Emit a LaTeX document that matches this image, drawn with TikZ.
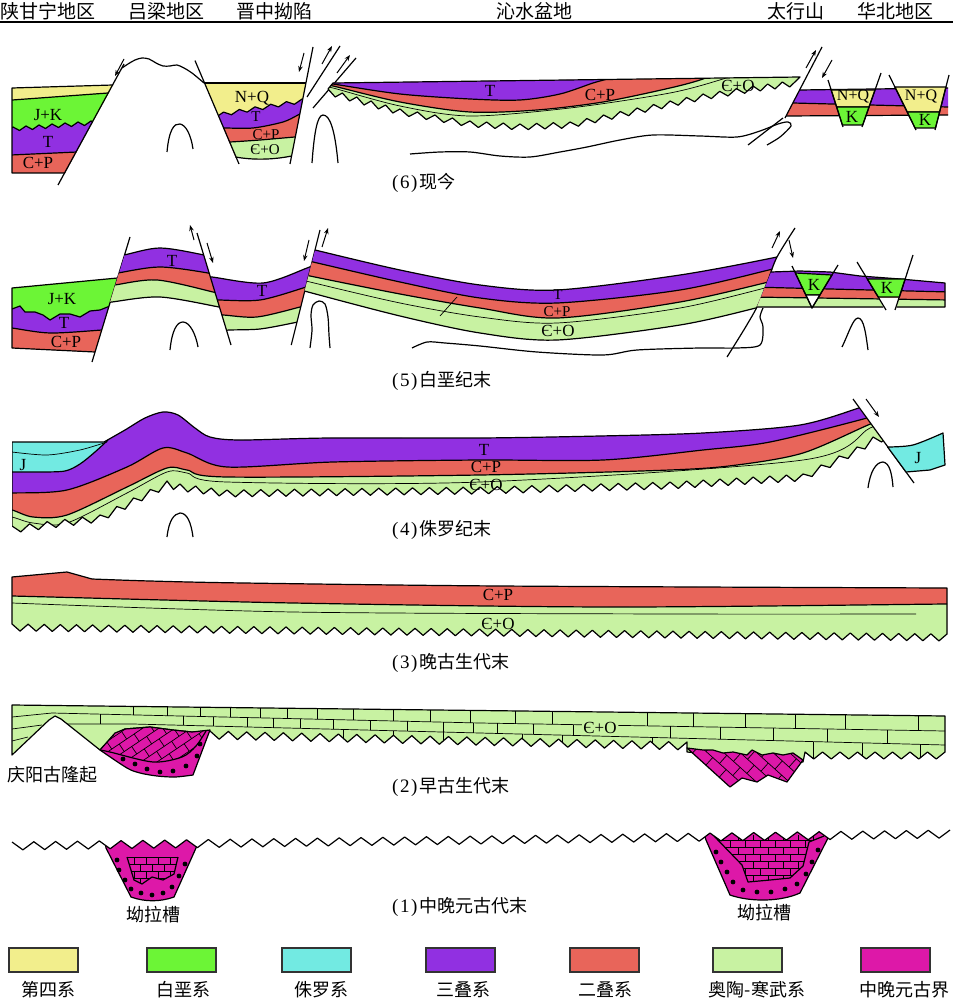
\documentclass[tikz,border=0pt]{standalone}
\usepackage{fontspec}
\setmainfont{Liberation Serif}
\newfontfamily\cjk{Noto Sans CJK SC}
\usetikzlibrary{arrows.meta}
\definecolor{cQ}{RGB}{242,238,140}
\definecolor{cK}{RGB}{108,245,54}
\definecolor{cJ}{RGB}{114,234,226}
\definecolor{cT}{RGB}{145,48,225}
\definecolor{cP}{RGB}{232,101,90}
\definecolor{cO}{RGB}{200,242,162}
\definecolor{cZ}{RGB}{221,24,168}
\newcommand\saw[6]{\foreach \sawi in {1,...,#5}{ -- ({#1+((#3)-(#1))/(#5)*(\sawi-0.5)},{#2+((#4)-(#2))/(#5)*(\sawi-0.5)+(#6)}) -- ({#1+((#3)-(#1))/(#5)*\sawi},{#2+((#4)-(#2))/(#5)*\sawi}) }}
\newcommand\pnum[1]{{\rmfamily\fontsize{19}{19}\selectfont(\kern1.5pt#1\kern1.5pt)\kern2pt}}
\begin{document}
\begin{tikzpicture}[x=1pt,y=-1pt,
  ln/.style={line width=1.2pt,line join=round},
  thn/.style={line width=0.7pt},
  arr/.style={line width=1pt,-{Stealth[length=6pt,width=4.5pt]}},
  lab/.style={font=\fontsize{17}{17}\selectfont,inner sep=0},
  slab/.style={font=\fontsize{15}{15}\selectfont,inner sep=0},
  hdr/.style={font=\cjk\fontsize{19}{19}\selectfont,inner sep=0},
  capt/.style={font=\cjk\fontsize{18}{18}\selectfont,inner sep=0,anchor=west},
  leg/.style={font=\cjk\fontsize{18}{18}\selectfont,inner sep=0},
  lbox/.style={draw=black!80,line width=1.2pt}]
\useasboundingbox (0,0) rectangle (953,1000);
\fill[white] (0,0) rectangle (953,1000);
% ---------- header ----------
\node[hdr] (h1) at (48,11) {陕甘宁地区};
\node[hdr] (h2) at (166,11) {吕梁地区};
\node[hdr] (h3) at (274,11) {晋中拗陷};
\node[hdr] (h4) at (534,11) {沁水盆地};
\node[hdr] (h5) at (796,11) {太行山};
\node[hdr] (h6) at (895,11) {华北地区};
\draw[line width=1.4pt] (0,22) -- (953,22);

% ================= Panel 6 =================
\begin{scope}
\clip (12,88) -- (113,85) -- (65,173) -- (12,173) -- cycle;
\fill[cQ] (0,75) rectangle (130,185);
\fill[cK] (0,100.9) -- (130,91.4) -- (130,185) -- (0,185) -- cycle;
\fill[cT] (0,128) \saw{0}{128}{104}{120}{8}{4} -- (130,118) -- (130,185) -- (0,185) -- cycle;
\fill[cP] (0,155.5) -- (130,149.6) -- (130,185) -- (0,185) -- cycle;
\draw[ln] (0,100.9) -- (130,91.4);
\draw[ln] (0,128) \saw{0}{128}{104}{120}{8}{4} -- (130,118);
\draw[ln] (0,155.5) -- (130,149.6);
\end{scope}
\draw[ln] (113,85) -- (12,88) -- (12,173) -- (65,173);
\draw[ln] (58,185) -- (124,64);
\draw[ln] plot[smooth] coordinates {(122,68) (128,64) (135,60) (142,58) (149,59) (156,63) (163,66) (170,66) (177,65) (184,68) (192,73) (204,83)};
\draw[arr] (124,59) -- (115,76);
\node[lab] (l6a) at (48,115) {J+K};
\node[lab] (l6b) at (48,142) {T};
\node[lab] (l6c) at (38,163) {C+P};
% graben
\begin{scope}
\clip (204.4,83) -- (306,83) -- (291.6,156) .. controls (272,160) and (252,160) .. (235.5,157) -- cycle;
\fill[cQ] (190,75) rectangle (320,170);
\fill[cT] (200,120) \saw{200}{120}{310}{101.7}{7}{-4} -- (320,100) -- (320,170) -- (200,170) -- cycle;
\fill[cP] plot[smooth] coordinates {(205,129) (222,128) (253,128) (283,122) (298,115) (312,108)} -- (320,170) -- (200,170) -- cycle;
\fill[cO] plot[smooth] coordinates {(205,143) (230,142) (260,140) (295,137) (312,136)} -- (320,170) -- (200,170) -- cycle;
\draw[ln] (200,120) \saw{200}{120}{310}{101.7}{7}{-4};
\draw[ln] plot[smooth] coordinates {(205,129) (222,128) (253,128) (283,122) (298,115) (312,108)};
\draw[ln] plot[smooth] coordinates {(205,143) (230,142) (260,140) (295,137) (312,136)};
\end{scope}
\draw[ln] (204.4,83) -- (306,83);
\draw[ln] (291.6,156) .. controls (272,160) and (252,160) .. (235.5,157);
\draw[ln] (195,60.6) -- (239,164);
\draw[ln] (313,47) -- (290,164);
\draw[arr] (304,53) -- (299,72);
\draw[ln] (307,97) -- (340,46);
\draw[ln] (313,108) -- (356,58);
\draw[arr] (322,64) -- (332,46);
\draw[arr] (337,73) -- (350,55);
\node[lab] (g6a) at (252,98) {N+Q};
\node[slab] (g6b) at (256,117) {T};
\node[slab] (g6c) at (266,135) {C+P};
\node[slab] (g6d) at (265,150) {Є+O};
\draw[ln] (167,152) .. controls (169,130) and (174,123) .. (180,124) .. controls (186,125) and (191,135) .. (193,149);
\draw[ln] (312,163) .. controls (314,135) and (317,115) .. (323,115) .. controls (330,115) and (335,130) .. (338,163);
% basin
\begin{scope}
\clip (333,83) -- (800,77) -- (797,80) \saw{797}{80}{753}{86}{3}{6} \saw{753}{86}{703}{94}{3}{6} \saw{703}{94}{637}{108}{4}{6} \saw{637}{108}{570}{122}{4}{6} \saw{570}{122}{520}{124}{3}{6} \saw{520}{124}{470}{121}{3}{6} \saw{470}{121}{400}{109}{4}{6} \saw{400}{109}{328}{89}{5}{6} -- cycle;
\fill[cO] (320,60) rectangle (810,150);
\fill[cP] plot[smooth] coordinates {(320,84) (333,86) (400,102) (470,112) (537,110) (603,102) (670,88) (703,79) (720,70)} -- (720,50) -- (320,50) -- cycle;
\fill[cT] plot[smooth] coordinates {(320,82) (333,84) (400,94) (470,99) (520,100) (560,94) (593,83) (610,78) (625,70)} -- (625,50) -- (320,50) -- cycle;
\draw[ln] plot[smooth] coordinates {(320,84) (333,86) (400,102) (470,112) (537,110) (603,102) (670,88) (703,79) (720,70)};
\draw[ln] plot[smooth] coordinates {(320,82) (333,84) (400,94) (470,99) (520,100) (560,94) (593,83) (610,78) (625,70)};
\draw[thn] plot[smooth] coordinates {(320,86) (333,88) (400,106) (470,116) (570,108) (670,93) (723,79) (740,72)};
\end{scope}
\draw[ln] (333,83) -- (800,77) -- (797,80) \saw{797}{80}{753}{86}{3}{6} \saw{753}{86}{703}{94}{3}{6} \saw{703}{94}{637}{108}{4}{6} \saw{637}{108}{570}{122}{4}{6} \saw{570}{122}{520}{124}{3}{6} \saw{520}{124}{470}{121}{3}{6} \saw{470}{121}{400}{109}{4}{6} \saw{400}{109}{328}{89}{5}{6} -- cycle;
\node[lab] (b6a) at (490,91) {T};
\node[lab] (b6b) at (600,95) {C+P};
\node[lab] (b6c) at (738,86) {Є+O};
\draw[ln] plot[smooth] coordinates {(410,154) (440,152) (470,152) (500,156) (530,157) (560,152) (587,147) (620,140) (653,135) (700,136) (737,137) (760,131) (778,124) (788,122) (791,126) (780,137) (767,145)};
\draw[ln] (748,145) -- (783,118);
% east
\fill[cT] (799.6,90) -- (948,88) -- (948,107) -- (792.8,103) -- cycle;
\fill[cP] (792.8,103) -- (948,107) -- (948,115) -- (786,116) -- cycle;
\draw[ln] (799.6,90) -- (948,88);
\draw[ln] (792.8,103) -- (948,107);
\draw[ln] (786,116) -- (948,115);
\draw[ln] (822,47) -- (785,118);
\draw[arr] (806,68) -- (816,50);
\draw[arr] (832,60) -- (822,78);
\filldraw[fill=cQ,ln] (831.2,90) -- (875.0,90) -- (869.0,107) -- (836.6,107) -- cycle;
\filldraw[fill=cK,ln] (836.6,107) -- (869.0,107) -- (862.7,125) -- (842.4,125) -- cycle;
\draw[ln] (828,80) -- (843,127);
\draw[ln] (881,73) -- (862,127);
\filldraw[fill=cQ,ln] (894.9,87) -- (945.9,87) -- (939.6,112) -- (907.2,112) -- cycle;
\filldraw[fill=cK,ln] (907.2,112) -- (939.6,112) -- (935.5,128) -- (915.0,128) -- cycle;
\draw[ln] (889,75) -- (916,130);
\draw[ln] (949,75) -- (935,130);
\node[font=\fontsize{16}{16}\selectfont,inner sep=0] (e6a) at (853,97) {N+Q};
\node[lab] (e6b) at (852,117) {K};
\node[font=\fontsize{16}{16}\selectfont,inner sep=0] (e6c) at (921,97) {N+Q};
\node[lab] (e6d) at (925,120) {K};
\node[capt] (c6) at (392,183) {\pnum{6}现今};

% ================= Panel 5 =================
\begin{scope}
\clip (12,288) -- (117.5,278) -- (95,352) -- (12,348) -- cycle;
\fill[cK] (0,270) rectangle (130,360);
\fill[cT] (0,309) -- (12,309) -- (20,306) -- (25,312) -- (35,312) -- (43,315) -- (50,320) -- (60,314) -- (70,314) -- (80,317) -- (90,311) -- (100,310) -- (110,306) -- (125,305) -- (125,360) -- (0,360) -- cycle;
\fill[cP] plot[smooth] coordinates {(0,327) (12,328) (50,333) (102,330) (125,328)} -- (125,360) -- (0,360) -- cycle;
\draw[ln] (0,309) -- (12,309) -- (20,306) -- (25,312) -- (35,312) -- (43,315) -- (50,320) -- (60,314) -- (70,314) -- (80,317) -- (90,311) -- (100,310) -- (110,306) -- (125,305);
\draw[ln] plot[smooth] coordinates {(0,327) (12,328) (50,333) (102,330) (125,328)};
\end{scope}
\draw[ln] (117.5,278) -- (12,288) -- (12,348) -- (95,352);
\draw[ln] (130,237) -- (92,362);
\node[lab] (l5a) at (62,299) {J+K};
\node[lab] (l5b) at (64,323) {T};
\node[lab] (l5c) at (66,342) {C+P};
% uplift block
\begin{scope}
\clip (130,237) -- (197,233) -- (231,345) -- (92,362) -- cycle;
\begin{scope}
\clip plot[smooth] coordinates {(100,260) (124,255) (160,248) (204,255) (230,262)} -- plot[smooth] coordinates {(232,310) (219,307) (160,297) (112,302) (95,305)} -- cycle;
\fill[cT] (90,230) rectangle (240,320);
\fill[cP] plot[smooth] coordinates {(100,277) (118,273) (160,267) (208,273) (225,278)} -- (240,320) -- (90,320) -- cycle;
\fill[cO] plot[smooth] coordinates {(100,288) (115,285) (157,280) (213,292) (228,297)} -- (240,320) -- (90,320) -- cycle;
\draw[ln] plot[smooth] coordinates {(100,277) (118,273) (160,267) (208,273) (225,278)};
\draw[ln] plot[smooth] coordinates {(100,288) (115,285) (157,280) (213,292) (228,297)};
\end{scope}
\draw[ln] plot[smooth] coordinates {(100,260) (124,255) (160,248) (204,255) (230,262)};
\draw[ln] plot[smooth] coordinates {(232,310) (219,307) (160,297) (112,302) (95,305)};
\end{scope}
\node[lab] (m5a) at (172,261) {T};
% graben
\begin{scope}
\clip (197,233) -- (318,238) -- (291.25,345) -- (231,345) -- cycle;
\begin{scope}
\clip plot[smooth] coordinates {(200,276) (212,277) (263,283) (307,268) (320,262)} -- plot[smooth] coordinates {(310,319) (293,323) (260,329) (230,330) (215,331)} -- cycle;
\fill[cT] (190,230) rectangle (330,350);
\fill[cP] plot[smooth] coordinates {(205,300) (218,300) (260,300) (303,288) (318,282)} -- (330,350) -- (190,350) -- cycle;
\fill[cO] plot[smooth] coordinates {(210,315) (223,315) (257,317) (300,307) (315,302)} -- (330,350) -- (190,350) -- cycle;
\draw[ln] plot[smooth] coordinates {(205,300) (218,300) (260,300) (303,288) (318,282)};
\draw[ln] plot[smooth] coordinates {(210,315) (223,315) (257,317) (300,307) (315,302)};
\end{scope}
\draw[ln] plot[smooth] coordinates {(200,276) (212,277) (263,283) (307,268) (320,262)};
\draw[ln] plot[smooth] coordinates {(310,319) (293,323) (260,329) (230,330) (215,331)};
\end{scope}
\node[lab] (g5a) at (262,291) {T};
\draw[ln] (197,233) -- (231,345);
\draw[ln] (320,230) -- (291.25,345);
\draw[arr] (194,240) -- (190,225);
\draw[arr] (207,243) -- (213,263);
\draw[arr] (309,240) -- (304,261);
\draw[arr] (322,247) -- (328,228);
% basin
\begin{scope}
\clip (318,238) -- (792,233) -- (777,257) -- (768,280) -- (758,305) -- (745,328) -- (725,358) -- (291.25,345) -- cycle;
\begin{scope}
\clip plot[smooth] coordinates {(300,246) (315,250) (400,270) (480,285) (557,290) (680,275) (777,257) (800,250)} -- plot[smooth] coordinates {(800,296) (760,307) (680,325) (557,340) (480,333) (400,316) (308,292) (295,288)} -- cycle;
\fill[cT] (290,230) rectangle (810,360);
\fill[cP] plot[smooth] coordinates {(300,259) (313,262) (400,282) (480,298) (557,303) (680,290) (777,268) (800,262)} -- (810,360) -- (290,360) -- cycle;
\fill[cO] plot[smooth] coordinates {(300,273) (310,276) (400,294) (480,308) (557,318) (680,302) (777,280) (800,275)} -- (810,360) -- (290,360) -- cycle;
\draw[ln] plot[smooth] coordinates {(300,259) (313,262) (400,282) (480,298) (557,303) (680,290) (777,268) (800,262)};
\draw[ln] plot[smooth] coordinates {(300,273) (310,276) (400,294) (480,308) (557,318) (680,302) (777,280) (800,275)};
\draw[thn] plot[smooth] coordinates {(300,279) (310,282) (400,303) (480,317) (557,323) (680,308) (777,285) (800,280)};
\draw[thn] (440,316) -- (457,297);
\end{scope}
\draw[ln] plot[smooth] coordinates {(300,246) (315,250) (400,270) (480,285) (557,290) (680,275) (777,257) (800,250)};
\draw[ln] plot[smooth] coordinates {(800,296) (760,307) (680,325) (557,340) (480,333) (400,316) (308,292) (295,288)};
\end{scope}
\node[slab] (b5a) at (558,295) {T};
\node[slab] (b5b) at (557,312) {C+P};
\node[lab] (b5c) at (558,331) {Є+O};
\draw[ln] plot[smooth] coordinates {(795,228) (777,257) (768,280) (758,305) (745,328) (727,357)};
\draw[arr] (772,248) -- (780,231);
\draw[arr] (789,240) -- (793,258);
\draw[ln] plot[smooth] coordinates {(412,348) (427,342) (445,343) (480,346) (537,352) (603,355) (637,350) (700,348) (737,348) (760,345) (763,327) (760,317) (763,308)};
% east
\begin{scope}
\clip (771,272) -- (800,271) -- (830,272) -- (860,276) -- (900,279) -- (945,283) -- (945,307) -- (757,307) -- cycle;
\fill[cT] (750,260) rectangle (950,310);
\fill[cP] (750,287) -- (950,292) -- (950,310) -- (750,310) -- cycle;
\fill[cO] (750,297) -- (950,300) -- (950,310) -- (750,310) -- cycle;
\draw[ln] (750,287) -- (950,292);
\draw[ln] (750,297) -- (950,300);
\end{scope}
\draw[ln] (771,272) -- (800,271) -- (830,272) -- (860,276) -- (900,279) -- (945,283) -- (945,307) -- (757,307);
\filldraw[fill=cK,ln] (795.3,273) -- (832,275) -- (819.9,295) -- (805.8,295) -- cycle;
\filldraw[fill=white,ln] (805.8,295) -- (819.9,295) -- (812,308) -- cycle;
\draw[ln] (792,266) -- (812,308) -- (838,265);
\fill[white] (878.2,297.6) -- (899.4,297.6) -- (896.1,309) -- (884.2,309) -- cycle;
\filldraw[fill=cK,ln] (867.3,279) -- (905.2,279) -- (899.4,297) -- (878.2,297) -- cycle;
\draw[ln] (857,262) -- (886,310);
\draw[ln] (913,255) -- (895,310);
\node[lab] (e5a) at (814,285) {K};
\node[lab] (e5b) at (887,288) {K};
\draw[ln] (170,350) .. controls (172,330) and (177,322) .. (183,322) .. controls (190,322) and (196,335) .. (198,347);
\draw[ln] plot[smooth] coordinates {(310,348) (312,330) (311,315) (313,305) (319,301) (325,304) (328,317) (329,335) (330,348)};
\draw[ln] (842,347) .. controls (848,335) and (853,318) .. (858,318) .. controls (864,318) and (866,335) .. (868,350);
\node[capt] (c5) at (392,381) {\pnum{5}白垩纪末};

% ================= Panel 4 =================
\begin{scope}
\clip (12,380) -- (839,380) -- (969.5,560) -- (12,560) -- cycle;
\begin{scope}
\clip (12,442) -- (104,442) -- plot[smooth] coordinates {(104,442) (125,430) (145,418) (163,412) (178,415) (195,428) (210,437) (240,440) (330,438) (480,438) (600,436) (703,433) (800,425) (862,407) (890,398)} -- (892,433) \saw{890}{433}{873}{437}{1}{7} \saw{873}{437}{857}{447}{1}{7} \saw{857}{447}{803}{474}{3}{7} \saw{803}{474}{670}{482}{8}{7} \saw{670}{482}{480}{487}{11}{7} \saw{480}{487}{227}{490}{15}{7} \saw{227}{490}{180}{484}{3}{7} \saw{180}{484}{167}{481}{1}{7} \saw{167}{481}{100}{515}{4}{7} \saw{100}{515}{12}{526}{5}{7} -- cycle;
\fill[cT] (0,380) rectangle (960,560);
\fill[cJ] (0,440) -- (108,440) -- plot[smooth] coordinates {(108,440) (95,452) (80,464) (65,471) (40,472) (12,472) (0,472)} -- cycle;
\fill[cP] plot[smooth] coordinates {(0,493) (12,493) (67,490) (127,467) (163,448) (187,453) (227,467) (333,462) (480,460) (603,460) (703,450) (770,442) (867,418) (895,408)} -- (960,560) -- (0,560) -- cycle;
\fill[cO] plot[smooth] coordinates {(0,510) (12,510) (33,517) (67,515) (127,487) (167,468) (187,470) (227,477) (480,475) (670,470) (737,465) (803,453) (868,425) (895,414)} -- (960,560) -- (0,560) -- cycle;
\draw[thn] plot[smooth] coordinates {(12,452) (47,455) (80,450) (107,442)};
\draw[ln] plot[smooth] coordinates {(108,440) (95,452) (80,464) (65,471) (40,472) (12,472) (0,472)};
\draw[ln] plot[smooth] coordinates {(0,493) (12,493) (67,490) (127,467) (163,448) (187,453) (227,467) (333,462) (480,460) (603,460) (703,450) (770,442) (867,418) (895,408)};
\draw[ln] plot[smooth] coordinates {(0,510) (12,510) (33,517) (67,515) (127,487) (167,468) (187,470) (227,477) (480,475) (670,470) (737,465) (803,453) (868,425) (895,414)};
\draw[thn] plot[smooth] coordinates {(0,517) (12,517) (33,523) (67,523) (127,493) (167,472) (187,473) (227,482) (480,482) (803,460) (870,428) (895,420)};
\end{scope}
\draw[ln] (12,442) -- (104,442) -- plot[smooth] coordinates {(104,442) (125,430) (145,418) (163,412) (178,415) (195,428) (210,437) (240,440) (330,438) (480,438) (600,436) (703,433) (800,425) (862,407) (890,398)} -- (892,433) \saw{890}{433}{873}{437}{1}{7} \saw{873}{437}{857}{447}{1}{7} \saw{857}{447}{803}{474}{3}{7} \saw{803}{474}{670}{482}{8}{7} \saw{670}{482}{480}{487}{11}{7} \saw{480}{487}{227}{490}{15}{7} \saw{227}{490}{180}{484}{3}{7} \saw{180}{484}{167}{481}{1}{7} \saw{167}{481}{100}{515}{4}{7} \saw{100}{515}{12}{526}{5}{7} -- cycle;
\end{scope}
\draw[ln] (853,399) -- (914,483);
\draw[arr] (866,399) -- (879,417);
\filldraw[fill=cJ,ln] (887.6,447) -- plot[smooth] coordinates {(887.6,447) (913,445) (943,433)} -- (945,465) -- (930,470) -- (906,472) -- cycle;
\draw[ln] (167,537) .. controls (169,520) and (174,514) .. (180,513) .. controls (187,513) and (191,522) .. (193,537);
\draw[ln] (868,488) .. controls (870,472) and (876,462) .. (883,462) .. controls (890,463) and (892,475) .. (893,487);
\node[lab] (l4a) at (23,465) {J};
\node[lab] (l4b) at (484,450) {T};
\node[lab] (l4c) at (486,467) {C+P};
\node[lab] (l4d) at (486,485) {Є+O};
\node[lab] (l4e) at (918,458) {J};
\node[capt] (c4) at (392,530) {\pnum{4}侏罗纪末};

% ================= Panel 3 =================
\begin{scope}
\clip (12,577) -- (67,572) -- (92,579) -- plot[smooth] coordinates {(92,579) (150,581) (244,583) (500,586) (947,588)} -- (947,634) \saw{947}{634}{12}{624}{58}{7} -- cycle;
\fill[cP] (0,560) rectangle (960,660);
\fill[cO] plot[smooth] coordinates {(0,596) (12,596) (293,603) (611,607) (947,604) (960,604)} -- (960,660) -- (0,660) -- cycle;
\draw[ln] plot[smooth] coordinates {(0,596) (12,596) (293,603) (611,607) (947,604) (960,604)};
\draw[thn] plot[smooth] coordinates {(12,603) (293,612) (672,614) (916,614)};
\end{scope}
\draw[ln] (12,577) -- (67,572) -- (92,579) -- plot[smooth] coordinates {(92,579) (150,581) (244,583) (500,586) (947,588)} -- (947,634) \saw{947}{634}{12}{624}{58}{7} -- cycle;
\node[lab] (l3a) at (498,595) {C+P};
\node[lab] (l3b) at (498,624) {Є+O};
\node[capt] (c3) at (392,663) {\pnum{3}晚古生代末};

% ================= Panel 2 =================
\begin{scope}
\clip (12,705) -- (945,716) -- (945,752) \saw{945}{752}{805}{752}{8}{7} -- (803,762) -- (687,752) -- (687,742) \saw{687}{742}{210}{731}{26}{8} -- (192,732) -- (173,730) -- (150,727) -- (125,729) -- (115,734) -- (100,750) -- (61,719) -- (55,716) -- (49,720) -- (12,755) -- cycle;
\fill[cO] (0,700) rectangle (953,800);
\draw[thn] (12,717) -- (52,713) -- (480,723) -- (945,731);
\draw[thn] (66,724) -- (133,724) -- (480,733) -- (945,745);
\draw[thn] (12,729) -- (42,725);
\draw[thn] (12,741) -- (28,737);
\foreach \x in {133,167,200,230,260,287,317,353,393,430,470} \draw[thn] (\x,{705+0.01179*(\x-12)}) -- (\x,{713+0.02336*(\x-52)});
\foreach \x in {515,552,647,693,745,795,845,918} \draw[thn] (\x,{705+0.01179*(\x-12)}) -- (\x,{723+0.0172*(\x-480)});
\foreach \x in {100,183,213,247,273,300,333,370,407,443,473} \draw[thn] (\x,{713+0.02336*(\x-52)}) -- (\x,{max(724,724+0.02594*(\x-133))});
\foreach \x in {497,533,573,670,720,773,827,887} \draw[thn] (\x,{723+0.0172*(\x-480)}) -- (\x,{733+0.0258*(\x-480)});
\foreach \x in {343,393,443,522,562,652,813,862,920} \draw[thn] (\x,{max(724,724+0.02594*(\x-133))}) -- (\x,765);
\end{scope}
\draw[ln] (12,705) -- (945,716) -- (945,752) \saw{945}{752}{805}{752}{8}{7} -- (803,762) -- (687,752) -- (687,742) \saw{687}{742}{210}{731}{26}{8} -- (192,732) -- (173,730) -- (150,727) -- (125,729) -- (115,734) -- (100,750) -- (61,719) -- (55,716) -- (49,720) -- (12,755) -- cycle;
\node[lab,fill=cO,inner sep=1.5pt] (l2a) at (600,728) {Є+O};
% magenta 1
\filldraw[fill=cZ,ln] (100,750) -- (115,733) -- (125,729) -- (150,727) -- (173,730) -- (192,732) -- (210,730) -- (193,775) -- plot[smooth] coordinates {(193,775) (175,777) (157,776) (140,773) (127,768) (100,750)} -- cycle;
\begin{scope}
\clip (100,750) -- (115,733) -- (125,729) -- (150,727) -- (173,730) -- (192,732) -- (206,731) -- plot[smooth] coordinates {(206,731) (196,746) (182,757) (153,762) (110,752)} -- cycle;
\begin{scope}[rotate around={34:(150,745)}]
\foreach \j in {0,...,10} {
 \draw[thn] (80,{700+9*\j}) -- (230,{700+9*\j});
 \foreach \i in {0,...,8} \draw[thn] ({80+18*\i+9*mod(\j,2)},{700+9*\j}) -- ++(0,9);
}
\end{scope}
\end{scope}
\draw[ln] plot[smooth] coordinates {(206,731) (196,746) (182,757) (153,762) (110,752) (100,750)};
\foreach \p in {(123,759),(135,764),(147,769),(160,772),(173,771),(186,766),(197,756),(200,744)} \fill \p circle (2.4pt);
% magenta 2
\filldraw[fill=cZ,ln] (687,748) -- (703,750) -- (713,750) -- (723,753) -- (733,752) -- (747,755) -- (752,750) -- (762,755) -- (773,753) -- (783,755) -- (793,753) -- (803,760) -- (787,782) -- (768,775) -- (757,782) -- (742,778) -- (730,787) -- cycle;
\begin{scope}
\clip (687,748) -- (703,750) -- (713,750) -- (723,753) -- (733,752) -- (747,755) -- (752,750) -- (762,755) -- (773,753) -- (783,755) -- (793,753) -- (803,760) -- (787,782) -- (768,775) -- (757,782) -- (742,778) -- (730,787) -- cycle;
\begin{scope}[rotate around={-42:(745,765)}]
\foreach \j in {0,...,9} {
 \draw[thn] (680,{715+11*\j}) -- (820,{715+11*\j});
 \foreach \i in {0,...,8} \draw[thn] ({680+18*\i+9*mod(\j,2)},{715+11*\j}) -- ++(0,11);
}
\end{scope}
\end{scope}
\node[font=\cjk\fontsize{18}{18}\selectfont,inner sep=0] (q2) at (52,775) {庆阳古隆起};
\node[capt] (c2) at (392,787) {\pnum{2}早古生代末};

% ================= Panel 1 =================
\begin{scope}
\clip (12,842) \saw{12}{842}{950}{830}{43}{8} -- (950,1000) -- (12,1000) -- cycle;
\filldraw[fill=cZ,ln] (104,835) -- (199,835) -- (196,848) -- (174,897) .. controls (160,902) and (145,902) .. (131,897) -- (106,848) -- cycle;
\begin{scope}
\clip (127,857) -- (178,857) -- (174,874) -- (163,880) -- (152,877) -- (142,884) -- (134,880) -- cycle;
\foreach \j in {0,...,4} {
 \draw[thn] (120,{857+7*\j}) -- (185,{857+7*\j});
 \foreach \i in {0,...,5} \draw[thn] ({122+12*\i+6*mod(\j,2)},{857+7*\j}) -- ++(0,7);
}
\end{scope}
\draw[ln] (127,857) -- (134,880) -- (142,884) -- (152,877) -- (163,880) -- (174,874) -- (178,857);
\filldraw[fill=cZ,ln] (703,830) -- (831,830) -- (828,838) -- (800,893) .. controls (780,902) and (750,902) .. (730,895) -- (706,840) -- cycle;
\begin{scope}
\clip (712,835) -- (826,835) -- (809,842) -- (803,866) -- (790,878) -- (770,880) -- (748,882) -- (742,865) -- cycle;
\foreach \j in {0,...,7} {
 \draw[thn] (705,{833+7*\j}) -- (830,{833+7*\j});
 \foreach \i in {0,...,8} \draw[thn] ({708+15*\i+7.5*mod(\j,2)},{833+7*\j}) -- ++(0,7);
}
\end{scope}
\draw[ln] (714,836) -- (742,865) -- (748,882) -- (770,880) -- (790,878) -- (803,866) -- (809,842) -- (824,836);
\end{scope}
\draw[ln] (12,842) \saw{12}{842}{950}{830}{43}{8};
\foreach \p in {(117,860),(119,870),(125,880),(131,889),(141,893),(152,895),(163,893),(172,887),(179,876),(185,864)} \fill \p circle (2.4pt);
\foreach \p in {(716,852),(721,862),(727,872),(733,882),(743,890),(757,892),(771,892),(785,889),(797,884),(806,874),(812,862),(818,850)} \fill \p circle (2.4pt);
\node[font=\cjk\fontsize{18}{18}\selectfont,inner sep=0] (a1) at (153,915) {坳拉槽};
\node[font=\cjk\fontsize{18}{18}\selectfont,inner sep=0] (a2) at (764,913) {坳拉槽};
\node[capt] (c1) at (392,907) {\pnum{1}中晚元古代末};

% ================= Legend =================
\filldraw[fill=cQ,lbox] (9,948) rectangle (78,972);
\filldraw[fill=cK,lbox] (147,948) rectangle (216,972);
\filldraw[fill=cJ,lbox] (282,948) rectangle (351,972);
\filldraw[fill=cT,lbox] (426,948) rectangle (495,972);
\filldraw[fill=cP,lbox] (570,948) rectangle (639,972);
\filldraw[fill=cO,lbox] (713,948) rectangle (782,972);
\filldraw[fill=cZ,lbox] (861,948) rectangle (930,972);
\node[leg] (k1) at (48,990) {第四系};
\node[leg] (k2) at (183,990) {白垩系};
\node[leg] (k3) at (321,990) {侏罗系};
\node[leg] (k4) at (463,990) {三叠系};
\node[leg] (k5) at (605,990) {二叠系};
\node[leg] (k6) at (757,990) {奥陶-寒武系};
\node[leg] (k7) at (904,990) {中晚元古界};
\end{tikzpicture}
\end{document}
